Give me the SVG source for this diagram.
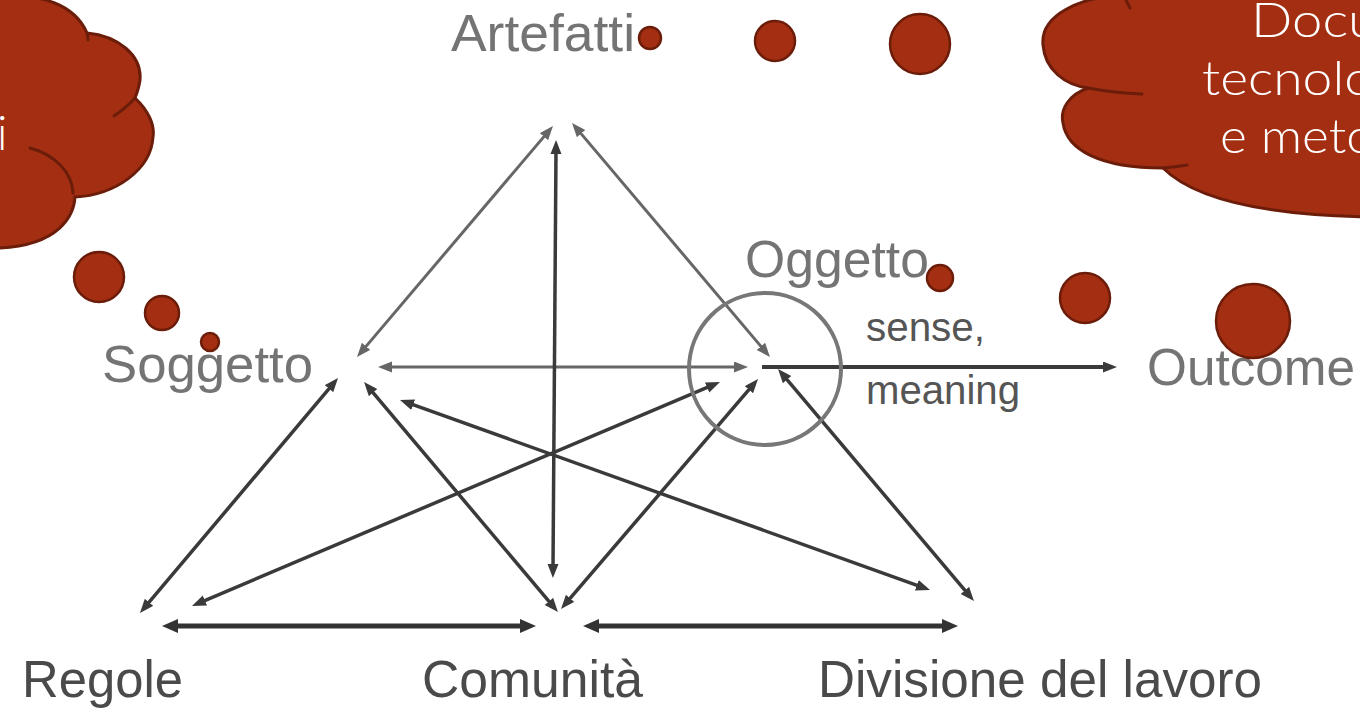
<svg xmlns="http://www.w3.org/2000/svg" width="1360" height="708" viewBox="0 0 1360 708">
<style>
.lbl{font-family:"Liberation Sans",Arial,sans-serif;font-size:52px;fill:#747474}
.lblb{font-family:"Liberation Sans",Arial,sans-serif;font-size:52px;fill:#4a4a4a}
.small{font-family:"Liberation Sans",Arial,sans-serif;font-size:40px;fill:#555}
.cloud{fill:#A32E12;stroke:#6B1D0A;stroke-width:3}
.stub{fill:none;stroke:#6B1D0A;stroke-width:3;stroke-linecap:round}
.bub{fill:#A32E12;stroke:#6B1D0A;stroke-width:2.5}
.ctext{font-family:"Lato","DejaVu Sans",sans-serif;font-weight:300;font-size:47px;fill:#fff}
.g{stroke:#666;stroke-width:3;fill:none;marker-start:url(#ag);marker-end:url(#ag)}
.d{stroke:#3a3a3a;stroke-width:3.5;fill:none;marker-start:url(#ad);marker-end:url(#ad)}
.b{stroke:#333;stroke-width:5;fill:none;marker-start:url(#ab);marker-end:url(#ab)}
</style>
<defs>
<marker id="ag" markerUnits="userSpaceOnUse" markerWidth="16" markerHeight="12" viewBox="0 0 16 12" refX="4" refY="5.5" orient="auto-start-reverse"><path d="M0,0 L14,5.5 L0,11 z" fill="#666"/></marker>
<marker id="ad" markerUnits="userSpaceOnUse" markerWidth="16" markerHeight="12" viewBox="0 0 16 12" refX="4" refY="5.5" orient="auto-start-reverse"><path d="M0,0 L14,5.5 L0,11 z" fill="#3a3a3a"/></marker>
<marker id="ab" markerUnits="userSpaceOnUse" markerWidth="18" markerHeight="16" viewBox="0 0 18 16" refX="4" refY="7" orient="auto-start-reverse"><path d="M0,0 L16,7 L0,14 z" fill="#333"/></marker>
</defs>

<g id="connectors">
<line class="g" x1="546.5" y1="133.6" x2="363.5" y2="349.4"/>
<line class="g" x1="578.5" y1="130.6" x2="763.5" y2="349.4"/>
<line class="g" x1="388" y1="367" x2="738" y2="367"/>
<line class="d" x1="556" y1="150" x2="553" y2="568"/>
<line stroke="#3a3a3a" stroke-width="4" marker-end="url(#ad)" x1="762" y1="367" x2="1107" y2="367"/>
<line class="d" x1="784.5" y1="376.6" x2="967.5" y2="593.4"/>
<line class="d" x1="201.2" y1="602.1" x2="710.8" y2="385.9"/>
<line class="d" x1="567.5" y1="601.4" x2="751.5" y2="386.6"/>
<line class="d" x1="409.4" y1="403.4" x2="920.6" y2="586.6"/>
<line class="d" x1="370.5" y1="389.6" x2="551.5" y2="604.4"/>
<line class="d" x1="331.6" y1="385.6" x2="146.4" y2="605.4"/>
<line class="b" x1="174" y1="626" x2="524" y2="626"/>
<line class="b" x1="595" y1="626" x2="946" y2="626"/>
</g>

<g id="oggetto-ring"><circle cx="765" cy="369" r="76" fill="none" stroke="#777" stroke-width="4"/></g>

<g id="artefatti"><text class="lbl" x="451" y="51" textLength="184" lengthAdjust="spacingAndGlyphs">Artefatti</text></g>
<g id="soggetto"><text class="lbl" x="102" y="382" textLength="211" lengthAdjust="spacingAndGlyphs">Soggetto</text></g>
<g id="oggetto"><text class="lbl" x="745" y="277" textLength="184" lengthAdjust="spacingAndGlyphs">Oggetto</text></g>
<g id="outcome"><text class="lbl" x="1147" y="385" textLength="208" lengthAdjust="spacingAndGlyphs">Outcome</text></g>
<g id="sense"><text class="small" x="866" y="341" textLength="119" lengthAdjust="spacingAndGlyphs">sense,</text><text class="small" x="866" y="404" textLength="154" lengthAdjust="spacingAndGlyphs">meaning</text></g>
<g id="regole"><text class="lblb" x="22" y="697" textLength="161" lengthAdjust="spacingAndGlyphs">Regole</text></g>
<g id="comunita"><text class="lblb" x="422" y="697" textLength="221" lengthAdjust="spacingAndGlyphs">Comunità</text></g>
<g id="divisione"><text class="lblb" x="818" y="697" textLength="444" lengthAdjust="spacingAndGlyphs">Divisione del lavoro</text></g>

<g id="cloud-left">
<path class="cloud" d="M -20,-5 L 0,-2 C 40,-8 75,5 87,33 C 118,36 142,55 140,80 C 139,88 137,93 135,98 C 148,110 155,125 153,137 C 151,170 115,195 75,197 C 74,215 60,245 0,248 L -20,248 Z"/>
<path class="stub" d="M 87,33 Q 88,37 88,40"/>
<path class="stub" d="M 135,98 Q 126,108 114,116"/>
<path class="stub" d="M 30,148 C 55,155 72,172 73,193"/>
<text class="ctext" x="-3" y="150">i</text>
</g>
<g id="bubbles-left">
<circle class="bub" cx="99" cy="277" r="25"/>
<circle class="bub" cx="162" cy="313" r="17"/>
<circle class="bub" cx="210" cy="342" r="9"/>
</g>

<g id="cloud-right">
<path class="cloud" d="M 1123,-5 C 1080,-3 1040,15 1043,45 C 1045,70 1065,85 1088,88 C 1068,95 1060,110 1063,123 C 1067,150 1100,168 1163,168 C 1190,195 1250,215 1370,217 L 1370,-5 Z"/>
<path class="stub" d="M 1125,-2 Q 1128,4 1130,8"/>
<path class="stub" d="M 1088,88 Q 1115,93 1142,94"/>
<path class="stub" d="M 1163,168 Q 1176,167 1187,165"/>
<text class="ctext" x="1251" y="37" textLength="127" lengthAdjust="spacingAndGlyphs">Docu</text>
<text class="ctext" x="1202" y="95" textLength="172" lengthAdjust="spacingAndGlyphs">tecnolo</text>
<text class="ctext" x="1220" y="153" textLength="155" lengthAdjust="spacingAndGlyphs">e meto</text>
</g>
<g id="bubbles-top">
<circle class="bub" cx="650" cy="38" r="11"/>
<circle class="bub" cx="775" cy="41" r="20"/>
<circle class="bub" cx="920" cy="44" r="30"/>
</g>
<g id="bubbles-right">
<circle class="bub" cx="940" cy="278" r="13"/>
<circle class="bub" cx="1085" cy="298" r="25"/>
<circle class="bub" cx="1253" cy="321" r="37"/>
</g>
</svg>
